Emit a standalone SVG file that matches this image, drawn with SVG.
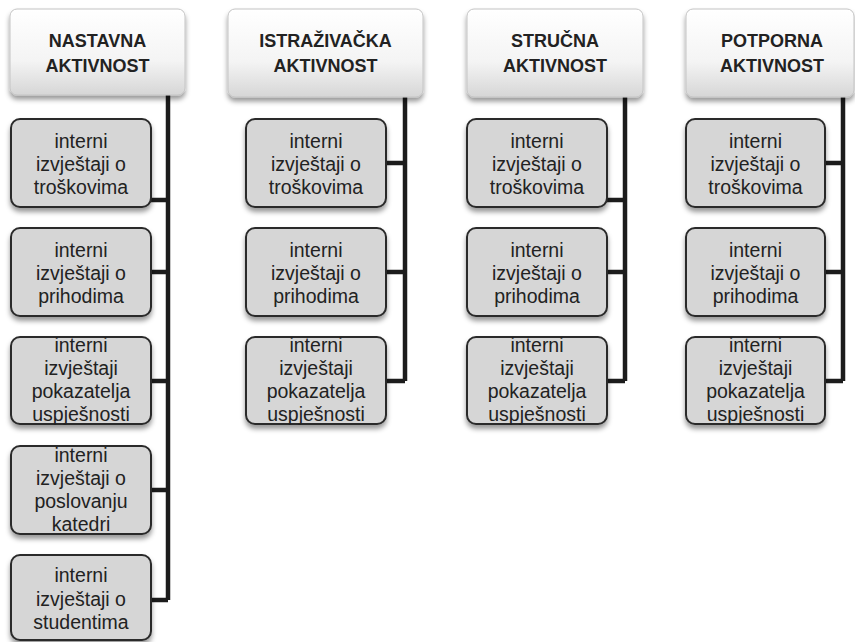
<svg xmlns="http://www.w3.org/2000/svg" width="855" height="642" viewBox="0 0 855 642">
<defs>
<linearGradient id="hg" x1="0" y1="0" x2="0" y2="1">
<stop offset="0" stop-color="#ffffff"/>
<stop offset="0.6" stop-color="#f4f4f4"/>
<stop offset="1" stop-color="#d6d6d6"/>
</linearGradient>
<filter id="sh" x="-10%" y="-10%" width="120%" height="130%">
<feDropShadow dx="0" dy="4" stdDeviation="2.5" flood-color="#000" flood-opacity="0.4"/>
</filter>
</defs>
<style>
.hd rect{fill:url(#hg);stroke:#c4c4c4;stroke-width:1;filter:url(#sh)}
.hd text{font-family:"Liberation Sans",Arial,sans-serif;font-weight:bold;font-size:18px;fill:#222;text-anchor:middle}
.bx rect{fill:#d6d6d6;stroke:#2b2b2b;stroke-width:2;filter:url(#sh)}
.bx text{font-family:"Liberation Sans",Arial,sans-serif;font-size:19.5px;fill:#222;text-anchor:middle}
.cn path{fill:none;stroke:#1c1c1c;stroke-width:4.5}
</style>
<rect width="855" height="642" fill="#fff"/>
<g class="cn" id="connectors">
<path d="M168 95V600M151 200H168M151 272H168M151 381H168M151 490H168M151 600H168"/>
<path d="M405 97V381M386 163H405M386 272H405M386 381H405"/>
<path d="M625 97V381M607 200H625M607 272H625M607 381H625"/>
<path d="M843 97V381M825 163H843M825 272H843M825 381H843"/>
</g>
<g class="hd" id="h1"><rect x="10" y="9" width="175" height="86" rx="7"/><text x="97.5" y="47">NASTAVNA</text><text x="97.5" y="72">AKTIVNOST</text></g>
<g class="hd" id="h2"><rect x="228" y="9" width="195" height="88" rx="7"/><text x="325.5" y="47">ISTRAŽIVAČKA</text><text x="325.5" y="72">AKTIVNOST</text></g>
<g class="hd" id="h3"><rect x="467" y="9" width="176" height="88" rx="7"/><text x="555" y="47">STRUČNA</text><text x="555" y="72">AKTIVNOST</text></g>
<g class="hd" id="h4"><rect x="686" y="9" width="168" height="88" rx="7"/><text x="772" y="47">POTPORNA</text><text x="772" y="72">AKTIVNOST</text></g>

<g class="bx" id="c1b1"><rect x="11" y="119" width="140" height="88" rx="9"/><text x="81" y="148">interni</text><text x="81" y="171">izvještaji o</text><text x="81" y="194">troškovima</text></g>
<g class="bx" id="c1b2"><rect x="11" y="228" width="140" height="88" rx="9"/><text x="81" y="257">interni</text><text x="81" y="280">izvještaji o</text><text x="81" y="303">prihodima</text></g>
<g class="bx" id="c1b3"><rect x="11" y="337" width="140" height="87" rx="9"/><text x="81" y="352">interni</text><text x="81" y="375">izvještaji</text><text x="81" y="398">pokazatelja</text><text x="81" y="421">uspješnosti</text></g>
<g class="bx" id="c1b4"><rect x="11" y="446" width="140" height="88" rx="9"/><text x="81" y="462">interni</text><text x="81" y="485">izvještaji o</text><text x="81" y="508">poslovanju</text><text x="81" y="531">katedri</text></g>
<g class="bx" id="c1b5"><rect x="11" y="555" width="140" height="85" rx="9"/><text x="81" y="582">interni</text><text x="81" y="606">izvještaji o</text><text x="81" y="629">studentima</text></g>

<g class="bx" id="c2b1"><rect x="246" y="119" width="140" height="88" rx="9"/><text x="316" y="148">interni</text><text x="316" y="171">izvještaji o</text><text x="316" y="194">troškovima</text></g>
<g class="bx" id="c2b2"><rect x="246" y="228" width="140" height="88" rx="9"/><text x="316" y="257">interni</text><text x="316" y="280">izvještaji o</text><text x="316" y="303">prihodima</text></g>
<g class="bx" id="c2b3"><rect x="246" y="337" width="140" height="87" rx="9"/><text x="316" y="352">interni</text><text x="316" y="375">izvještaji</text><text x="316" y="398">pokazatelja</text><text x="316" y="421">uspješnosti</text></g>

<g class="bx" id="c3b1"><rect x="467" y="119" width="140" height="88" rx="9"/><text x="537" y="148">interni</text><text x="537" y="171">izvještaji o</text><text x="537" y="194">troškovima</text></g>
<g class="bx" id="c3b2"><rect x="467" y="228" width="140" height="88" rx="9"/><text x="537" y="257">interni</text><text x="537" y="280">izvještaji o</text><text x="537" y="303">prihodima</text></g>
<g class="bx" id="c3b3"><rect x="467" y="337" width="140" height="87" rx="9"/><text x="537" y="352">interni</text><text x="537" y="375">izvještaji</text><text x="537" y="398">pokazatelja</text><text x="537" y="421">uspješnosti</text></g>

<g class="bx" id="c4b1"><rect x="686" y="119" width="139" height="88" rx="9"/><text x="755.5" y="148">interni</text><text x="755.5" y="171">izvještaji o</text><text x="755.5" y="194">troškovima</text></g>
<g class="bx" id="c4b2"><rect x="686" y="228" width="139" height="88" rx="9"/><text x="755.5" y="257">interni</text><text x="755.5" y="280">izvještaji o</text><text x="755.5" y="303">prihodima</text></g>
<g class="bx" id="c4b3"><rect x="686" y="337" width="139" height="87" rx="9"/><text x="755.5" y="352">interni</text><text x="755.5" y="375">izvještaji</text><text x="755.5" y="398">pokazatelja</text><text x="755.5" y="421">uspješnosti</text></g>
</svg>
